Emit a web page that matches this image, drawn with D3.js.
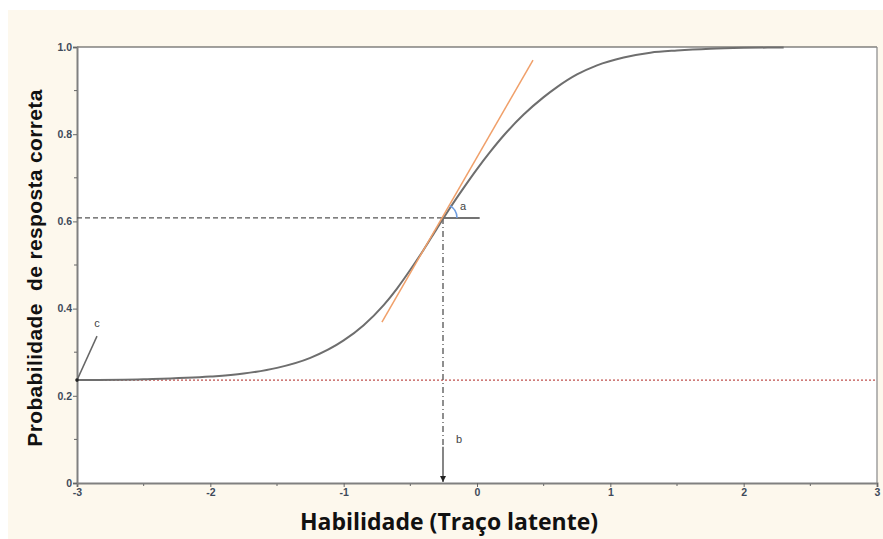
<!DOCTYPE html>
<html>
<head>
<meta charset="utf-8">
<script src="https://cdn.jsdelivr.net/npm/d3@7"></script>
<style>
  html, body { margin: 0; padding: 0; background: #fff; }
  svg { display: block; }
</style>
</head>
<body>
<div id="chart"></div>
<script>
// ability values (theta) and probability of a correct answer
const theta = [-3, -2.5, -2, -1.75, -1.5, -1.25, -1, -0.85, -0.7, -0.6, -0.5, -0.4, -0.3,
  -0.2, -0.1, 0, 0.1, 0.2, 0.35, 0.5, 0.6, 0.75, 0.9, 1.1, 1.3, 1.5, 1.75, 2.0, 2.3];
const prob = [0.236, 0.238, 0.244, 0.251, 0.264, 0.287, 0.327, 0.362, 0.408, 0.446, 0.489,
  0.535, 0.584, 0.632, 0.677, 0.720, 0.760, 0.797, 0.845, 0.885, 0.908, 0.937, 0.958,
  0.976, 0.987, 0.992, 0.996, 0.998, 0.999];

// item parameters shown on the figure
const cParam = 0.236;     // lower asymptote
const bParam = -0.255;    // difficulty
const pAtB = 0.608;       // probability at theta = b
const tangentTheta = [-0.713, 0.42];
const tangentProb = [0.369, 0.970];
const slopeEndTheta = 0.02;

const xTicks = [-3, -2, -1, 0, 1, 2, 3];
const xTickLabels = ['-3', '-2', '-1', '0', '1', '2', '3'];
const xMinor = [-2.5, -1.5, -0.5, 0.5, 1.5, 2.5];
const yTicks = [0, 0.2, 0.4, 0.6, 0.8, 1.0];
const yTickLabels = ['0', '0.2', '0.4', '0.6', '0.8', '1.0'];
const yMinor = [0.1, 0.3, 0.5, 0.7, 0.9];

const W = 883, H = 539;
const svg = d3.select('#chart').append('svg')
  .attr('width', W)
  .attr('height', H);

// cream panel
svg.append('rect')
  .attr('x', 8).attr('y', 10)
  .attr('width', W - 8).attr('height', H - 10)
  .attr('fill', '#fdf8ed');

const x = d3.scaleLinear().domain([-3, 3]).range([77, 877]);
const y = d3.scaleLinear().domain([0, 1]).range([483, 47]);

svg.append('rect')
  .attr('x', x(-3)).attr('y', y(1))
  .attr('width', x(3) - x(-3)).attr('height', y(0) - y(1))
  .attr('fill', '#fff');

// frame: top and right
svg.append('line')
  .attr('x1', x(-3)).attr('x2', x(3)).attr('y1', y(1)).attr('y2', y(1))
  .attr('stroke', '#444').attr('stroke-width', 1.2);
svg.append('line')
  .attr('x1', x(3)).attr('x2', x(3)).attr('y1', y(1)).attr('y2', y(0))
  .attr('stroke', '#888').attr('stroke-width', 1.2);

// axes
const xAxis = svg.append('g')
  .attr('transform', `translate(0,${y(0)})`)
  .call(d3.axisBottom(x).tickValues(xTicks).tickSize(4).tickFormat((d, i) => xTickLabels[i]));
const yAxis = svg.append('g')
  .attr('transform', `translate(${x(-3)},0)`)
  .call(d3.axisLeft(y).tickValues(yTicks).tickSize(4).tickFormat((d, i) => yTickLabels[i]));

[xAxis, yAxis].forEach(g => {
  g.select('.domain').attr('stroke', '#808080').attr('stroke-width', 2);
  g.selectAll('.tick line').attr('stroke', '#666');
  g.selectAll('.tick text')
    .attr('fill', '#3f4a5a')
    .style('font-family', '"Liberation Sans", Arial, sans-serif')
    .style('font-weight', 'bold')
    .style('font-size', '10.5px');
});
xAxis.selectAll('.tick text').attr('dy', '0.55em');
yAxis.selectAll('.tick text').attr('x', -5);

xAxis.selectAll('.minor')
  .data(xMinor)
  .enter().append('line')
  .attr('x1', d => x(d)).attr('x2', d => x(d))
  .attr('y1', 1).attr('y2', 3)
  .attr('stroke', '#666');
yAxis.selectAll('.minor')
  .data(yMinor)
  .enter().append('line')
  .attr('x1', -3).attr('x2', 0)
  .attr('y1', d => y(d)).attr('y2', d => y(d))
  .attr('stroke', '#666');

// lower asymptote (red dotted)
svg.append('line')
  .attr('x1', x(-3)).attr('x2', x(3))
  .attr('y1', y(cParam)).attr('y2', y(cParam))
  .attr('stroke', '#c0504d')
  .attr('stroke-width', 1.2)
  .attr('stroke-dasharray', '2,2');

// dashed guide to the y axis
svg.append('line')
  .attr('x1', x(-3)).attr('x2', x(bParam))
  .attr('y1', y(pAtB)).attr('y2', y(pAtB))
  .attr('stroke', '#555')
  .attr('stroke-width', 1.3)
  .attr('stroke-dasharray', '5,3');

// solid horizontal for the slope angle
svg.append('line')
  .attr('x1', x(bParam)).attr('x2', x(slopeEndTheta))
  .attr('y1', y(pAtB)).attr('y2', y(pAtB))
  .attr('stroke', '#444')
  .attr('stroke-width', 1.5);

// dash-dot vertical down to b, then a solid arrow
svg.append('defs').append('marker')
  .attr('id', 'arrow')
  .attr('viewBox', '0 0 10 10')
  .attr('refX', 10).attr('refY', 5)
  .attr('markerWidth', 5).attr('markerHeight', 5)
  .attr('orient', 'auto')
  .append('path')
  .attr('d', 'M0,0L10,5L0,10z')
  .attr('fill', '#222');

const arrowStart = 0.083;
svg.append('line')
  .attr('x1', x(bParam)).attr('x2', x(bParam))
  .attr('y1', y(pAtB)).attr('y2', y(arrowStart))
  .attr('stroke', '#444')
  .attr('stroke-width', 1.2)
  .attr('stroke-dasharray', '6,3,1,3');
svg.append('line')
  .attr('x1', x(bParam)).attr('x2', x(bParam))
  .attr('y1', y(arrowStart)).attr('y2', y(0) - 1)
  .attr('stroke', '#444')
  .attr('stroke-width', 1.3)
  .attr('marker-end', 'url(#arrow)');

// ICC curve
const line = d3.line()
  .x((d, i) => x(theta[i]))
  .y(d => y(d))
  .curve(d3.curveMonotoneX);
svg.append('path')
  .datum(prob)
  .attr('d', line)
  .attr('fill', 'none')
  .attr('stroke', '#6e6e6e')
  .attr('stroke-width', 2);

// tangent at b (orange)
svg.append('line')
  .attr('x1', x(tangentTheta[0])).attr('y1', y(tangentProb[0]))
  .attr('x2', x(tangentTheta[1])).attr('y2', y(tangentProb[1]))
  .attr('stroke', '#f0a06a')
  .attr('stroke-width', 1.5);

// angle arc for a
const cx = x(bParam), cy = y(pAtB);
const ang = Math.atan2(y(tangentProb[1]) - cy, x(tangentTheta[1]) - cx);
const r = 14;
const arcPath = d3.path();
arcPath.moveTo(cx + r * Math.cos(ang), cy + r * Math.sin(ang));
arcPath.arc(cx, cy, r, ang, 0);
svg.append('path')
  .attr('d', arcPath.toString())
  .attr('fill', 'none')
  .attr('stroke', '#6f9de0')
  .attr('stroke-width', 1.5);

// c pointer
svg.append('line')
  .attr('x1', x(-3)).attr('y1', y(cParam))
  .attr('x2', x(-2.85)).attr('y2', y(0.337))
  .attr('stroke', '#666')
  .attr('stroke-width', 1.5);
svg.append('circle')
  .attr('cx', x(-3)).attr('cy', y(cParam))
  .attr('r', 1.8)
  .attr('fill', '#222');

const labelFont = '"Liberation Sans", Arial, sans-serif';
svg.append('text')
  .attr('x', x(-2.85)).attr('y', 327)
  .attr('text-anchor', 'middle')
  .style('font-family', labelFont).style('font-size', '11px')
  .attr('fill', '#444')
  .text('c');
svg.append('text')
  .attr('x', cx + 17).attr('y', cy - 8)
  .style('font-family', labelFont).style('font-size', '11px')
  .attr('fill', '#444')
  .text('a');
svg.append('text')
  .attr('x', cx + 13).attr('y', 443)
  .style('font-family', labelFont).style('font-size', '11px')
  .attr('fill', '#444')
  .text('b');

// axis titles
svg.append('text')
  .attr('transform', `translate(42,${(y(0) + y(1)) / 2 + 3}) rotate(-90)`)
  .attr('text-anchor', 'middle')
  .style('font-family', '"Liberation Sans", Arial, sans-serif')
  .style('font-weight', 'bold')
  .style('font-size', '21px')
  .style('letter-spacing', '0.35px')
  .attr('fill', '#111')
  .text('Probabilidade\u00a0 de resposta correta');

svg.append('text')
  .attr('x', 449).attr('y', 530)
  .attr('text-anchor', 'middle')
  .style('font-family', '"Open Sans", sans-serif')
  .style('font-weight', 'bold')
  .style('font-size', '23px')
  .attr('fill', '#111')
  .text('Habilidade (Traço latente)');
</script>
</body>
</html>
